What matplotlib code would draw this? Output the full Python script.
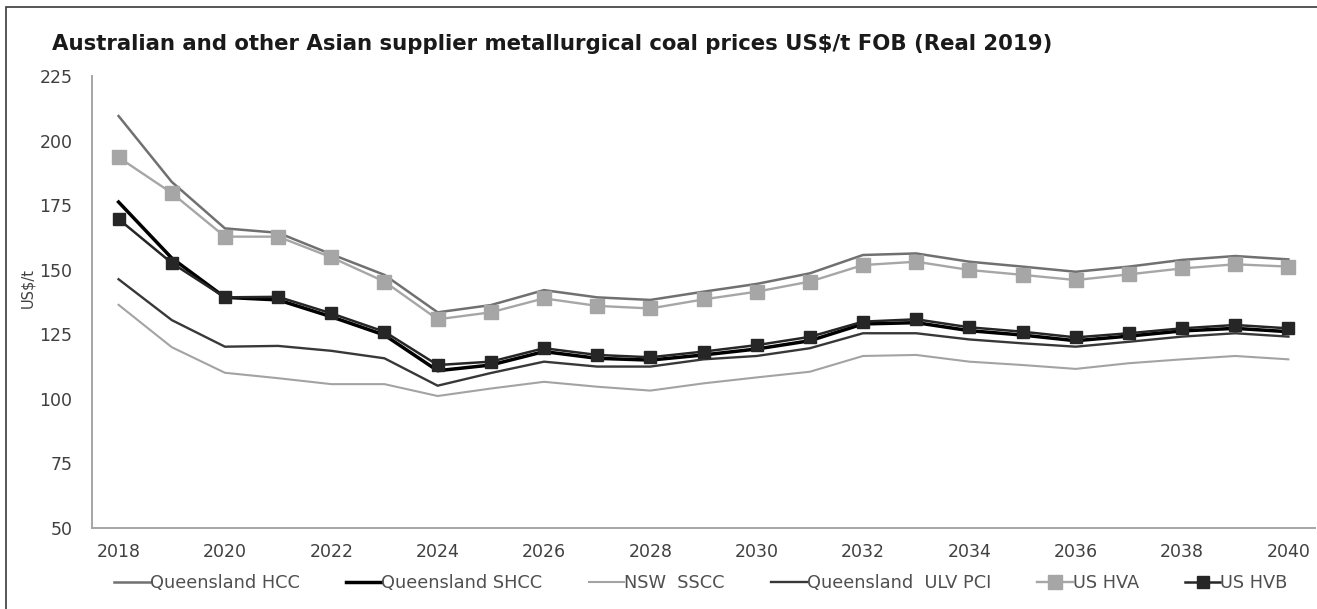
import numpy as np
import matplotlib.pyplot as plt
from matplotlib.patches import Rectangle

plt.rcParams['font.family'] = ['DejaVu Sans']

years = list(range(2018, 2041))

qld_hcc = [209.5, 184, 166, 164.3, 156, 148, 133.5, 136.3, 142.1, 139.3, 138.3, 141.5,
           144.5, 148.6, 155.7, 156.3, 153.1, 151.2, 149.2, 151.2, 153.8, 155.3, 154]
qld_shcc = [176.2, 154.5, 139.3, 138.3, 131.8, 124.7, 110.9, 113.1, 118.3, 115.7, 115, 117,
            119.3, 122.5, 129, 129.5, 126.4, 124.7, 122.5, 124.3, 126.3, 127.3, 126]
nsw_sscc = [136.4, 120, 110.1, 108, 105.7, 105.7, 101.1, 104, 106.6, 104.7, 103.2, 106,
            108.3, 110.5, 116.6, 117, 114.4, 113.1, 111.6, 113.8, 115.3, 116.6, 115.3]
qld_ulv_pci = [146.3, 130.5, 120.2, 120.5, 118.6, 115.7, 105.1, 110, 114.4, 112.5, 112.5, 115.3,
               116.6, 119.6, 125.4, 125.4, 123, 121.5, 120.2, 122.1, 124.1, 125.4, 124.1]
us_hva = [193.5, 179.7, 162.8, 162.8, 154.8, 145.4, 130.8, 133.5, 138.9, 136, 135, 138.5,
          141.5, 145.4, 151.8, 153.1, 149.9, 148, 146, 148.2, 150.5, 152.1, 151.2]
us_hvb = [169.6, 152.6, 139.3, 139.5, 133.1, 126, 113.1, 114.4, 119.6, 117, 116.1, 118.3,
          120.8, 124, 129.9, 130.8, 127.7, 126, 123.8, 125.4, 127.3, 128.6, 127.3]

series_names = ["Queensland HCC", "Queensland SHCC", "NSW  SSCC",
                "Queensland  ULV PCI", "US HVA", "US HVB"]
yticks = [50, 75, 100, 125, 150, 175, 200, 225]
xticks = list(range(2018, 2041, 2))

W, H = 1317, 609
fig = plt.figure(figsize=(W / 100, H / 100), dpi=100)

# outer frame of the picture
fig.patches.append(Rectangle((6 / W, -0.1), 1.2, 1 - 7 / H + 0.1, transform=fig.transFigure,
                             fill=False, edgecolor='#3a3a3a', linewidth=1.2))

ax = fig.add_axes([92 / W, 1 - 528 / H, (1315 - 92) / W, (528 - 76) / H])

styles = [
    dict(color='#707070', lw=1.8),
    dict(color='#000000', lw=2.5),
    dict(color='#a3a3a3', lw=1.5),
    dict(color='#383838', lw=1.7),
    dict(color='#a6a6a6', lw=1.7, marker='s', markersize=10.5),
    dict(color='#262626', lw=1.8, marker='s', markersize=9),
]
data = [qld_hcc, qld_shcc, nsw_sscc, qld_ulv_pci, us_hva, us_hvb]
for name, vals, st in zip(series_names, data, styles):
    ax.plot(years, vals, label=name, solid_joinstyle='miter', **st)

ax.set_xlim(2017.5, 2040.5)
ax.set_ylim(50, 225)
ax.set_xticks(xticks)
ax.set_yticks(yticks)
ax.tick_params(length=0, labelsize=12.5, labelcolor='#404040')
ax.tick_params(axis='y', pad=14)
ax.tick_params(axis='x', pad=11)
for s in ['top', 'right']:
    ax.spines[s].set_visible(False)
for s in ['left', 'bottom']:
    ax.spines[s].set_color('#a6a6a6')
    ax.spines[s].set_linewidth(1.4)

fig.text(28 / W, 1 - 288 / H, "US$/t", rotation=90, ha='center', va='center',
         fontsize=10.5, color='#404040')
fig.text(52 / W, 1 - 44 / H,
         "Australian and other Asian supplier metallurgical coal prices US$/t FOB (Real 2019)",
         fontsize=15.3, fontweight='bold', color='#1a1a1a', ha='left', va='center')

fig.legend(loc='center', bbox_to_anchor=(701 / W, 1 - 583 / H), ncol=6, frameon=False,
           fontsize=12.8, labelcolor='#505050', handlelength=2.0, handletextpad=0.0,
           columnspacing=2.6)

fig.savefig("out.png", dpi=100)
